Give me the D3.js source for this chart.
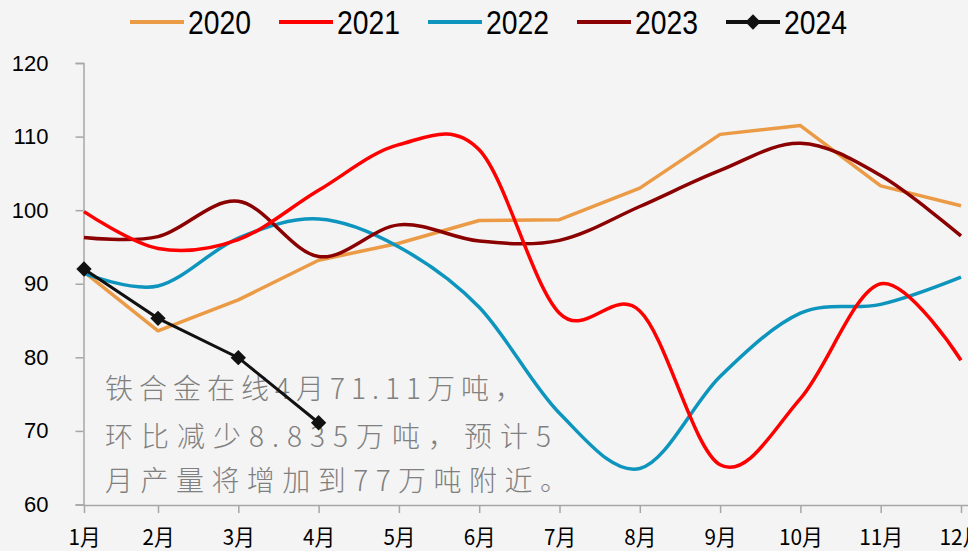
<!DOCTYPE html>
<html><head><meta charset="utf-8">
<script src="https://cdn.jsdelivr.net/npm/d3@7"></script>
<style>
html,body{margin:0;padding:0;background:#f4f4f4;}
svg{display:block;}
</style></head>
<body>
<svg id="chart" width="968" height="551"></svg>
<script>
const months = ["1月","2月","3月","4月","5月","6月","7月","8月","9月","10月","11月","12月"];
const yTicks = [60,70,80,90,100,110,120];
const seriesNames = ["2020","2021","2022","2023","2024"];
const seriesColors = ["#eb9a45","#ff0000","#0d95bd","#8b0000","#111111"];
const v2020 = [91.6,83.6,87.8,93.2,95.5,98.6,98.7,103.0,110.3,111.5,103.3,100.6];
const v2021 = [99.8,94.8,96.0,102.7,108.9,108.2,86.0,86.3,65.4,74.4,90.0,79.6];
const v2022 = [91.4,89.7,96.2,98.8,95.0,86.8,72.4,64.9,77.4,86.0,87.2,90.9];
const v2023 = [96.3,96.4,101.2,93.7,98.0,95.8,95.9,100.5,105.4,109.1,104.7,96.5];
const v2024 = [92.0,85.3,79.95,71.11];
const noteLines = ["铁合金在线4月71.11万吨，","环比减少8.835万吨，预计5","月产量将增加到77万吨附近。"];

const svg = d3.select("#chart");
const idx = months.map((m,i)=>i);
// category positions (Excel places the first category slightly closer to the second)
const x = d3.scaleLinear().domain([0,1,11]).range([84,158,961]);
const y = d3.scaleLinear().domain([60,120]).range([504.5, 63]);

// annotation text (behind lines)
const noteX = [105,105,105], noteY = [399,447,491], noteW = [418,446,463];
svg.append("g").selectAll("text").data(noteLines).join("text")
  .attr("x",(d,i)=>noteX[i]).attr("y",(d,i)=>noteY[i])
  .attr("textLength",(d,i)=>noteW[i]).attr("lengthAdjust","spacing")
  .attr("fill","#808080").attr("font-size",28)
  .attr("font-family","'Noto Sans CJK SC', sans-serif").attr("font-weight",300)
  .text(d=>d);

// axes
const axisColor = "#a6a6a6";
const yAxis = svg.append("g").attr("transform","translate(83.5,0)")
  .call(d3.axisLeft(y).tickValues(yTicks).tickSize(8).tickPadding(27).tickFormat(d3.format("d")));
yAxis.select(".domain").attr("stroke",axisColor).attr("stroke-width",1.5);
yAxis.selectAll(".tick line").attr("stroke",axisColor).attr("stroke-width",1.5);
yAxis.selectAll("text").attr("font-size",22).attr("font-family","'Liberation Sans', Arial, sans-serif").attr("fill","#000");

const xAxis = svg.append("g").attr("transform","translate(0,505)")
  .call(d3.axisBottom(x).tickValues(idx).tickFormat(i=>months[i]).tickSize(8).tickPadding(16).tickSizeOuter(0));
xAxis.select(".domain").attr("stroke",axisColor).attr("stroke-width",1.5).attr("d","M83.5,0.5H968");
xAxis.selectAll(".tick line").attr("stroke",axisColor).attr("stroke-width",1.5);
xAxis.selectAll("text").attr("font-size",22).attr("font-family","'Noto Sans CJK SC', sans-serif").attr("fill","#000")
  .attr("textLength",function(){ const t=this.textContent; return t.length>2?44:32; }).attr("lengthAdjust","spacingAndGlyphs");

// lines
const smooth = d3.line().x((d,i)=>x(i)).y(d=>y(d)).curve(d3.curveCatmullRom.alpha(0));
const straight = d3.line().x((d,i)=>x(i)).y(d=>y(d));
const g = svg.append("g");
g.append("path").attr("d",straight(v2020)).attr("fill","none").attr("stroke",seriesColors[0]).attr("stroke-width",3.5).attr("stroke-linejoin","round");
g.append("path").attr("d",smooth(v2022)).attr("fill","none").attr("stroke",seriesColors[2]).attr("stroke-width",3.5);
g.append("path").attr("d",smooth(v2023)).attr("fill","none").attr("stroke",seriesColors[3]).attr("stroke-width",3.5);
g.append("path").attr("d",smooth(v2021)).attr("fill","none").attr("stroke",seriesColors[1]).attr("stroke-width",3.5);
g.append("path").attr("d",straight(v2024)).attr("fill","none").attr("stroke",seriesColors[4]).attr("stroke-width",3);
const diamond = d3.symbol().type(d3.symbolDiamond2).size(150);
g.selectAll(".mk").data(v2024).join("path").attr("class","mk")
  .attr("transform",(d,i)=>`translate(${x(i)},${y(d)})`)
  .attr("d",diamond).attr("fill",seriesColors[4]);

// legend
const legX = [130,279,428,577,726];
const leg = svg.append("g");
seriesNames.forEach((n,i)=>{
  const gi = leg.append("g").attr("transform",`translate(${legX[i]},22)`);
  gi.append("line").attr("x1",0).attr("x2",54).attr("y1",0).attr("y2",0)
    .attr("stroke",seriesColors[i]).attr("stroke-width",4);
  if(i===4) gi.append("path").attr("transform","translate(27,0)").attr("d",diamond).attr("fill",seriesColors[4]);
  gi.append("text").attr("x",58).attr("y",12).attr("font-size",33)
    .attr("textLength",63).attr("lengthAdjust","spacingAndGlyphs")
    .attr("font-family","'Liberation Sans Narrow', Arial, sans-serif").attr("fill","#000").text(n);
});
</script>
</body></html>
